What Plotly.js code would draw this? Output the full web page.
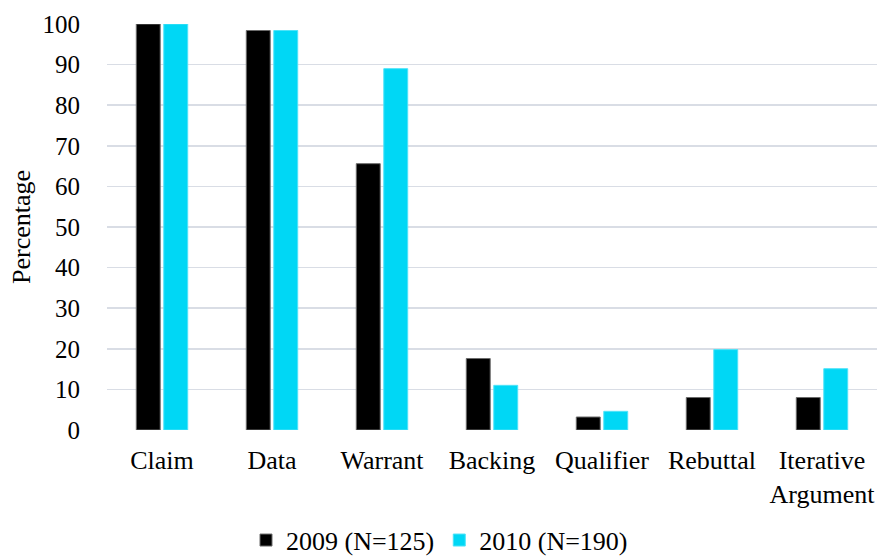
<!DOCTYPE html>
<html>
<head>
<meta charset="utf-8">
<script src="https://cdn.plot.ly/plotly-3.0.1.min.js"></script>
<style>html,body{margin:0;padding:0;background:#fff;}#chart{width:879px;height:558px;}</style>
</head>
<body>
<div id="chart"></div>
<script>
const categories = ["Claim", "Data", "Warrant", "Backing", "Qualifier", "Rebuttal", "Iterative<br>Argument"];
const series2009 = [100, 98.4, 65.6, 17.6, 3.2, 8.0, 8.0];
const series2010 = [100, 98.4, 89.0, 11.0, 4.6, 19.8, 15.1];
const name2009 = "2009 (N=125)";
const name2010 = "2010 (N=190)";
const yTicks = [0, 10, 20, 30, 40, 50, 60, 70, 80, 90, 100];

const font = "Liberation Serif, Times New Roman, serif";
const traces = [
  {type: "bar", x: categories, y: series2009, name: name2009,
   marker: {color: "#000000", line: {color: "#6b6b6b", width: 1}}},
  {type: "bar", x: categories, y: series2010, name: name2010,
   marker: {color: "#00d7f5", line: {color: "#4fe3f8", width: 1}}}
];
const layout = {
  width: 879, height: 558,
  margin: {l: 107, r: 2, t: 24, b: 128},
  paper_bgcolor: "#fff", plot_bgcolor: "#fff",
  font: {family: font, size: 26, color: "#000"},
  barmode: "group", bargap: 0.5, bargroupgap: 0.13,
  xaxis: {showgrid: false, showline: false, zeroline: false, ticks: "", automargin: false,
          ticklabelstandoff: 12,
          tickfont: {family: font, size: 26, color: "#000"}, fixedrange: true},
  yaxis: {range: [0, 100], tickvals: yTicks, showgrid: true, gridcolor: "#d9dde5", gridwidth: 1.5,
          zeroline: false, showline: false, ticks: "", ticklen: 0, automargin: false,
          ticklabelstandoff: 26,
          tickfont: {family: font, size: 25, color: "#000"},
          title: {text: "Percentage", font: {family: font, size: 26, color: "#000"}, standoff: 4}},
  showlegend: true,
  legend: {orientation: "h", xref: "container", yref: "container", x: 0.5, xanchor: "center",
           y: 0.032, yanchor: "middle",
           font: {family: font, size: 26, color: "#000"}, itemwidth: 16, traceorder: "normal"}
};
Plotly.newPlot("chart", traces, layout, {displayModeBar: false, staticPlot: true});
</script>
</body>
</html>
